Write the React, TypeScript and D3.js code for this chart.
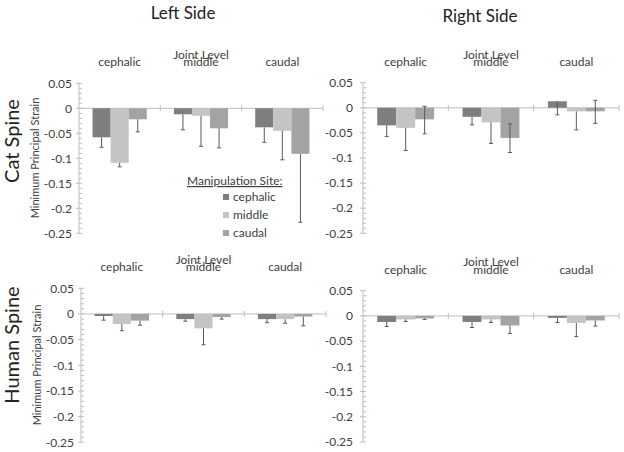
import React from "react";
import * as d3 from "d3";

const jointLevels = ["cephalic", "middle", "caudal"];
const sites = ["cephalic", "middle", "caudal"];
const siteColors = ["#7f7f7f", "#c4c4c4", "#a3a3a3"];
const yTicks = [0.05, 0, -0.05, -0.1, -0.15, -0.2, -0.25];
const yTickLabels = ["0.05", "0", "-0.05", "-0.1", "-0.15", "-0.2", "-0.25"];

// values[site][jointLevel]
const catLeftValues = [
  [-0.058, -0.012, -0.038],
  [-0.109, -0.015, -0.045],
  [-0.022, -0.04, -0.091],
];
const catLeftErrMinus = [
  [0.02, 0.031, 0.03],
  [0.008, 0.061, 0.058],
  [0.025, 0.039, 0.137],
];
const catLeftErrPlus = [
  [0, 0, 0],
  [0, 0, 0],
  [0, 0, 0],
];

const catRightValues = [
  [-0.035, -0.018, 0.013],
  [-0.04, -0.029, -0.007],
  [-0.023, -0.06, -0.007],
];
const catRightErrMinus = [
  [0.022, 0.016, 0.027],
  [0.045, 0.042, 0.037],
  [0.029, 0.029, 0.024],
];
const catRightErrPlus = [
  [0, 0, 0],
  [0, 0, 0],
  [0.026, 0.028, 0.022],
];

const humanLeftValues = [
  [-0.004, -0.01, -0.01],
  [-0.0195, -0.028, -0.01],
  [-0.013, -0.006, -0.005],
];
const humanLeftErrMinus = [
  [0.008, 0.004, 0.007],
  [0.013, 0.032, 0.008],
  [0.009, 0.004, 0.018],
];

const humanRightValues = [
  [-0.012, -0.012, -0.004],
  [-0.007, -0.007, -0.014],
  [-0.005, -0.019, -0.009],
];
const humanRightErrMinus = [
  [0.009, 0.011, 0.009],
  [0.004, 0.006, 0.027],
  [0.002, 0.016, 0.011],
];
const zeroErr = [
  [0, 0, 0],
  [0, 0, 0],
  [0, 0, 0],
];

const FONT = "Lato, 'Open Sans', sans-serif";
const TEXT = "#404040";
const AXIS = "#bdbdbd";

type PanelProps = {
  x0: number;
  x1: number;
  yTop: number;
  yBottom: number;
  values: number[][];
  errMinus: number[][];
  errPlus: number[][];
  labelBase: number;
  jointBase: number;
  showYTitle: boolean;
  rowLabel?: string;
  rowLabelY?: number;
  yTitleY?: number;
  labelGap: number;
};

function Panel(p: PanelProps) {
  const y = d3.scaleLinear().domain([-0.25, 0.05]).range([p.yBottom, p.yTop]);
  const xCat = d3.scaleBand<string>().domain(jointLevels).range([p.x0, p.x1]).padding(0);
  const xSite = d3
    .scaleBand<string>()
    .domain(sites)
    .range([0, xCat.bandwidth()])
    .paddingInner(0)
    .paddingOuter(0.75);
  const minor = d3.range(0.05, -0.2501, -0.01);
  const y0 = y(0);
  return (
    <g>
      {/* y axis */}
      <line x1={p.x0} x2={p.x0} y1={y(0.05)} y2={y(-0.25)} stroke={AXIS} strokeWidth={1} />
      {minor.map((m, i) => (
        <line key={"m" + i} x1={p.x0} x2={p.x0 + 3} y1={y(m)} y2={y(m)} stroke={AXIS} strokeWidth={1} />
      ))}
      {yTicks.map((t, i) => (
        <g key={"t" + i}>
          <line x1={p.x0 - 3} x2={p.x0} y1={y(t)} y2={y(t)} stroke={AXIS} />
          <text
            x={p.x0 - p.labelGap}
            y={y(t)}
            dy="0.35em"
            textAnchor="end"
            fontSize={12}
            fill={TEXT}
            fontFamily={FONT}
          >
            {yTickLabels[i]}
          </text>
        </g>
      ))}
      {/* x axis at zero */}
      <line x1={p.x0} x2={p.x1} y1={y0} y2={y0} stroke={AXIS} strokeWidth={1} />
      {jointLevels.map((c, i) => (
        <line
          key={"xt" + i}
          x1={(xCat(c) as number) + xCat.bandwidth()}
          x2={(xCat(c) as number) + xCat.bandwidth()}
          y1={y0 - 3}
          y2={y0 + 3}
          stroke={AXIS}
        />
      ))}
      {/* category labels */}
      {jointLevels.map((c, i) => (
        <text
          key={"cl" + i}
          x={(xCat(c) as number) + xCat.bandwidth() / 2}
          y={p.labelBase}
          textAnchor="middle"
          fontSize={12}
          fill={TEXT}
          fontFamily={FONT}
        >
          {c}
        </text>
      ))}
      <text
        x={(xCat("middle") as number) + xCat.bandwidth() / 2}
        y={p.jointBase}
        textAnchor="middle"
        fontSize={12}
        fill={TEXT}
        fontFamily={FONT}
      >
        Joint Level
      </text>
      {/* bars */}
      {sites.map((s, si) =>
        jointLevels.map((c, ci) => {
          const v = p.values[si][ci];
          const bx = (xCat(c) as number) + (xSite(s) as number);
          const bw = xSite.bandwidth();
          return (
            <rect
              key={"b" + si + ci}
              x={bx}
              y={Math.min(y(v), y0)}
              width={bw}
              height={Math.abs(y(v) - y0)}
              fill={siteColors[si]}
            />
          );
        })
      )}
      {/* error bars */}
      {sites.map((s, si) =>
        jointLevels.map((c, ci) => {
          const v = p.values[si][ci];
          const cx = (xCat(c) as number) + (xSite(s) as number) + xSite.bandwidth() / 2;
          const lo = v - p.errMinus[si][ci];
          const hi = v + p.errPlus[si][ci];
          return (
            <g key={"e" + si + ci} stroke="#595959" strokeWidth={1}>
              <line x1={cx} x2={cx} y1={y(hi)} y2={y(lo)} />
              <line x1={cx - 2} x2={cx + 2} y1={y(lo)} y2={y(lo)} />
              {p.errPlus[si][ci] > 0 && <line x1={cx - 2} x2={cx + 2} y1={y(hi)} y2={y(hi)} />}
            </g>
          );
        })
      )}
      {p.showYTitle && (
        <text
          transform={`translate(${p.x0 - 40},${p.yTitleY}) rotate(-90)`}
          textAnchor="middle"
          fontSize={11}
          fill={TEXT}
          fontFamily={FONT}
        >
          Minimum Principal Strain
        </text>
      )}
      {p.rowLabel && (
        <text
          transform={`translate(${19},${p.rowLabelY}) rotate(-90)`}
          textAnchor="middle"
          fontSize={20}
          fill="#222"
          fontFamily={FONT}
        >
          {p.rowLabel}
        </text>
      )}
    </g>
  );
}

export default function App() {
  return (
    <svg
      width={624}
      height={452}
      style={{ position: "absolute", left: 0, top: 0, background: "#fff" }}
    >
      <text x={183} y={19} textAnchor="middle" fontSize={17} fill="#222" fontFamily={FONT}>
        Left Side
      </text>
      <text x={480} y={22} textAnchor="middle" fontSize={17} fill="#222" fontFamily={FONT}>
        Right Side
      </text>
      <Panel
        x0={79}
        x1={323}
        yTop={83.3}
        yBottom={233.3}
        values={catLeftValues}
        errMinus={catLeftErrMinus}
        errPlus={catLeftErrPlus}
        labelBase={66}
        jointBase={59}
        showYTitle={true}
        yTitleY={158}
        rowLabel="Cat Spine"
        rowLabelY={141}
        labelGap={7}
      />
      <Panel
        x0={363}
        x1={619}
        yTop={82.7}
        yBottom={233.3}
        values={catRightValues}
        errMinus={catRightErrMinus}
        errPlus={catRightErrPlus}
        labelBase={66}
        jointBase={59}
        showYTitle={false}
        labelGap={10}
      />
      <Panel
        x0={81}
        x1={326}
        yTop={288.3}
        yBottom={442.3}
        values={humanLeftValues}
        errMinus={humanLeftErrMinus}
        errPlus={zeroErr}
        labelBase={271}
        jointBase={264}
        showYTitle={true}
        yTitleY={365}
        rowLabel="Human Spine"
        rowLabelY={345}
        labelGap={7}
      />
      <Panel
        x0={363}
        x1={619}
        yTop={290.7}
        yBottom={442}
        values={humanRightValues}
        errMinus={humanRightErrMinus}
        errPlus={zeroErr}
        labelBase={274}
        jointBase={266}
        showYTitle={false}
        labelGap={10}
      />
      {/* legend */}
      <text
        x={187}
        y={185}
        fontSize={12}
        fill={TEXT}
        fontFamily={FONT}
        textDecoration="underline"
      >
        Manipulation Site:
      </text>
      {sites.map((s, i) => (
        <g key={"lg" + i}>
          <rect x={223} y={194 + i * 18} width={6} height={6} fill={siteColors[i]} />
          <text x={233} y={197 + i * 18} dy="0.35em" fontSize={12} fill={TEXT} fontFamily={FONT}>
            {s}
          </text>
        </g>
      ))}
    </svg>
  );
}
